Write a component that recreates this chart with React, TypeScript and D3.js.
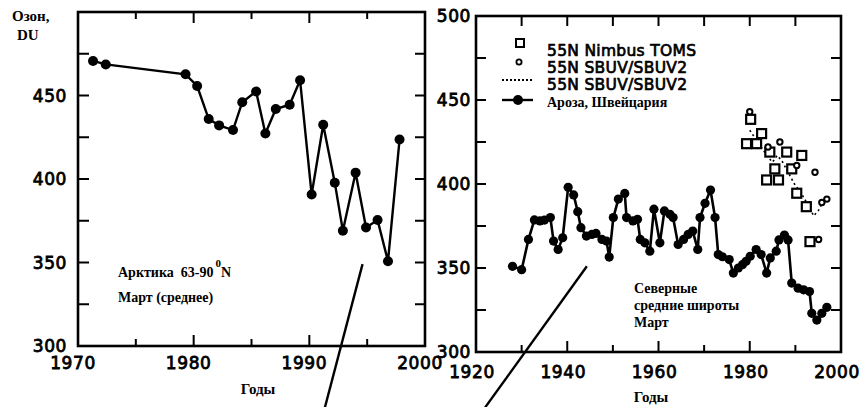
import React from "react";
import * as d3 from "d3";

// ---- Left panel: Arctic 63-90N, March mean ----
const arcticYears = [1971.3, 1972.4, 1979.3, 1980.3, 1981.3, 1982.2, 1983.4, 1984.2, 1985.4, 1986.2, 1987.1, 1988.3, 1989.2, 1990.2, 1991.2, 1992.2, 1992.9, 1994.0, 1994.9, 1995.9, 1996.8, 1997.8];
const arcticValues = [470.7, 468.6, 462.7, 455.7, 435.9, 432.1, 429.3, 446, 452.4, 427.2, 441.9, 444.5, 459.1, 390.7, 432.5, 397.8, 369, 403.8, 371, 375.4, 350.8, 423.6];

// ---- Right panel: Arosa, Switzerland ----
const arosaYears = [1928, 1930, 1931.5, 1932.8, 1934, 1935, 1936.3, 1937, 1938, 1939, 1940.2, 1941.4, 1942.3, 1943, 1944.2, 1945.4, 1946.3, 1947.6, 1948.6, 1949.2, 1950.1, 1951.2, 1952.6, 1953, 1954.4, 1955.4, 1956, 1957, 1958.1, 1959, 1960.3, 1961.3, 1962.5, 1963.2, 1964.3, 1965.5, 1966.5, 1967.5, 1968.6, 1969.1, 1970.2, 1971.4, 1972.4, 1973.1, 1974, 1975.5, 1976.4, 1977.5, 1978.4, 1979.2, 1980.1, 1981.4, 1982.5, 1983.7, 1984.5, 1985.8, 1986.4, 1987.6, 1988.4, 1989.2, 1990.6, 1991.8, 1993.1, 1993.6, 1994.7, 1995.8, 1996.9];
const arosaValues = [351, 349, 367, 378.6, 378, 378.5, 380, 366, 361, 368, 398, 393.5, 383.5, 374, 369, 370, 370.6, 367, 366, 356.5, 380, 391, 394.4, 380, 378, 379, 367, 365, 360, 385, 365, 384, 382, 380, 364, 367, 370, 372, 361, 380, 388.5, 396.4, 380, 358, 356.7, 355, 347, 350, 352, 354, 357, 361, 358, 347, 356, 360, 366.7, 369.6, 366.7, 341, 338, 337, 336, 323, 319, 323, 326.6];

// ---- 55N Nimbus TOMS (squares) ----
const tomsYears = [1979.3, 1980.2, 1981.5, 1982.6, 1984.4, 1983.7, 1985.5, 1986.3, 1988.1, 1989.2, 1991.4, 1990.3, 1992.4, 1993.2];
const tomsValues = [424, 438.5, 424, 430, 419, 402.4, 409, 402.4, 419, 409, 417, 394.5, 386.5, 365.7];

// ---- 55N SBUV/SBUV2 (circles) ----
const sbuvYears = [1980.0, 1984.0, 1986.6, 1990.3, 1994.3, 1995.1, 1995.8, 1996.9];
const sbuvValues = [443, 422, 425, 411, 407, 367, 389, 391];

// ---- 55N SBUV/SBUV2 (dotted line) ----
const sbuvLineYears = [1980, 1981, 1982, 1983, 1984, 1985, 1986, 1987, 1988, 1989, 1990, 1991, 1992, 1993, 1994, 1995, 1996];
const sbuvLineValues = [432, 428, 424, 420, 416, 413, 417, 414, 409, 404, 399, 396, 391, 387, 381, 384, 389];

// ---- Axis ticks ----
const leftXTickLabels = [1970, 1980, 1990, 2000];
const leftXMinorTicks = [1975, 1980, 1985, 1990, 1995];
const leftYTickLabels = [300, 350, 400, 450];
const yMinorTicks = [325, 350, 375, 400, 425, 450, 475];
const rightXTickLabels = [1920, 1940, 1960, 1980, 2000];
const rightXMinorTicks = [1930, 1940, 1950, 1960, 1970, 1980, 1990];
const rightYTickLabels = [300, 350, 400, 450, 500];

const W = 861;
const H = 407;

const xL = d3.scaleLinear().domain([1970, 2000]).range([78, 425]);
const yL = d3.scaleLinear().domain([300, 500]).range([346, 12]);
const xR = d3.scaleLinear().domain([1920, 2000]).range([476, 841]);
const yR = d3.scaleLinear().domain([300, 500]).range([352, 16]);

const SANS = "'DejaVu Sans', sans-serif";
const SERIF = "'Liberation Serif', 'DejaVu Serif', serif";

function Frame({ x, y, xd, yd }: any) {
  const [x0, x1] = xd;
  const [y0, y1] = yd;
  return (
    <rect x={x(x0)} y={y(y1)} width={x(x1) - x(x0)} height={y(y0) - y(y1)} fill="none" stroke="#000" strokeWidth={2.6} />
  );
}

export default function App() {
  const lineL = d3.line<number>().x((d, i) => xL(arcticYears[i])).y((d) => yL(d));
  const lineR = d3.line<number>().x((d, i) => xR(arosaYears[i])).y((d) => yR(d));
  const lineS = d3.line<number>().x((d, i) => xR(sbuvLineYears[i])).y((d) => yR(d));

  const tickStyle = { fontFamily: SANS, fontSize: 17, fill: "#000", stroke: "#000", strokeWidth: 0.8, letterSpacing: 0.6 } as any;
  const legendStyle = { fontFamily: SANS, fontSize: 15.5, fill: "#000", stroke: "#000", strokeWidth: 0.7, letterSpacing: 0.3 } as any;
  const serifBold = { fontFamily: SERIF, fontWeight: "bold", fill: "#000" } as any;

  return (
    <svg width={W} height={H} style={{ position: "absolute", left: 0, top: 0, background: "#fff" }}>
      <rect x={0} y={0} width={W} height={H} fill="#fff" />

      {/* ================= LEFT PANEL ================= */}
      <Frame x={xL} y={yL} xd={[1970, 2000]} yd={[300, 500]} />
      {yMinorTicks.map((v) => (
        <g key={"lyt" + v}>
          <line x1={xL(1970)} x2={xL(1970) + 11} y1={yL(v)} y2={yL(v)} stroke="#000" strokeWidth={2} />
          <line x1={xL(2000)} x2={xL(2000) - 10} y1={yL(v)} y2={yL(v)} stroke="#000" strokeWidth={2} />
        </g>
      ))}
      {leftXMinorTicks.map((v) => {
        const len = v % 10 === 0 ? 11 : 7;
        return (
          <g key={"lxt" + v}>
            <line x1={xL(v)} x2={xL(v)} y1={yL(300)} y2={yL(300) - len} stroke="#000" strokeWidth={2} />
            <line x1={xL(v)} x2={xL(v)} y1={yL(500)} y2={yL(500) + len} stroke="#000" strokeWidth={2} />
          </g>
        );
      })}
      {leftYTickLabels.map((v) => (
        <text key={"lyl" + v} x={xL(1970) - 11} y={yL(v)} dy="0.36em" textAnchor="end" style={tickStyle}>{v}</text>
      ))}
      {leftXTickLabels.map((v) => (
        <text key={"lxl" + v} x={xL(v) - 5} y={yL(300) + 23} textAnchor="middle" style={tickStyle}>{v}</text>
      ))}

      <path d={lineL(arcticValues) || ""} fill="none" stroke="#000" strokeWidth={2.4} />
      {arcticValues.map((v, i) => (
        <circle key={"ld" + i} cx={xL(arcticYears[i])} cy={yL(v)} r={5} fill="#000" />
      ))}

      <text x={12} y={21} style={{ ...serifBold, fontSize: 15 }}>Озон,</text>
      <text x={17} y={40} style={{ ...serifBold, fontSize: 15 }}>DU</text>
      <text x={118} y={277} style={{ ...serifBold, fontSize: 14 }}>
        {"Арктика\u00A0\u00A063-90"}
        <tspan dx={2} dy={-10} fontSize={11}>0</tspan>
        <tspan dy={10}>N</tspan>
      </text>
      <text x={118} y={302} style={{ ...serifBold, fontSize: 14 }}>Март (среднее)</text>
      <text x={258} y={394} textAnchor="middle" style={{ ...serifBold, fontSize: 15 }}>Годы</text>

      {/* ================= RIGHT PANEL ================= */}
      <Frame x={xR} y={yR} xd={[1920, 2000]} yd={[300, 500]} />
      {yMinorTicks.map((v) => (
        <g key={"ryt" + v}>
          <line x1={xR(1920)} x2={xR(1920) + 10} y1={yR(v)} y2={yR(v)} stroke="#000" strokeWidth={2} />
          <line x1={xR(2000)} x2={xR(2000) - 10} y1={yR(v)} y2={yR(v)} stroke="#000" strokeWidth={2} />
        </g>
      ))}
      {rightXMinorTicks.map((v) => {
        const len = v % 20 === 0 ? 11 : 7;
        return (
          <g key={"rxt" + v}>
            <line x1={xR(v)} x2={xR(v)} y1={yR(300)} y2={yR(300) - len} stroke="#000" strokeWidth={2} />
            <line x1={xR(v)} x2={xR(v)} y1={yR(500)} y2={yR(500) + 10} stroke="#000" strokeWidth={2} />
          </g>
        );
      })}
      {rightYTickLabels.map((v) => (
        <text key={"ryl" + v} x={xR(1920) - 5} y={yR(v)} dy="0.36em" textAnchor="end" style={tickStyle}>{v}</text>
      ))}
      {rightXTickLabels.map((v) => (
        <text key={"rxl" + v} x={xR(v) - 4} y={yR(300) + 26} textAnchor="middle" style={tickStyle}>{v}</text>
      ))}

      {/* SBUV dotted line */}
      <path d={lineS(sbuvLineValues) || ""} fill="none" stroke="#000" strokeWidth={1.6} strokeDasharray="2,3" />
      {/* TOMS squares */}
      {tomsValues.map((v, i) => (
        <rect key={"ts" + i} x={xR(tomsYears[i]) - 4.5} y={yR(v) - 4.5} width={9} height={9} fill="#fff" stroke="#000" strokeWidth={2.2} />
      ))}
      {/* SBUV circles */}
      {sbuvValues.map((v, i) => (
        <circle key={"sc" + i} cx={xR(sbuvYears[i])} cy={yR(v)} r={2.7} fill="#fff" stroke="#000" strokeWidth={2} />
      ))}
      {/* Arosa */}
      <path d={lineR(arosaValues) || ""} fill="none" stroke="#000" strokeWidth={2.6} />
      {arosaValues.map((v, i) => (
        <circle key={"ad" + i} cx={xR(arosaYears[i])} cy={yR(v)} r={4.6} fill="#000" />
      ))}

      {/* Legend */}
      <rect x={516} y={39} width={8} height={8} fill="#fff" stroke="#000" strokeWidth={2} />
      <circle cx={519} cy={62} r={2.6} fill="#fff" stroke="#000" strokeWidth={1.8} />
      <line x1={502} x2={533} y1={80} y2={80} stroke="#000" strokeWidth={1.8} strokeDasharray="2,2" />
      <line x1={502} x2={533} y1={100} y2={100} stroke="#000" strokeWidth={2.4} />
      <circle cx={518} cy={100} r={5} fill="#000" />
      <text x={547} y={55.5} style={legendStyle}>55N Nimbus TOMS</text>
      <text x={547} y={72.5} style={legendStyle}>55N SBUV/SBUV2</text>
      <text x={547} y={89.5} style={legendStyle}>55N SBUV/SBUV2</text>
      <text x={547} y={107} style={{ ...serifBold, fontSize: 14 }}>Ароза, Швейцария</text>

      <text x={634} y={293} style={{ ...serifBold, fontSize: 14 }}>Северные</text>
      <text x={634} y={310} style={{ ...serifBold, fontSize: 14 }}>средние широты</text>
      <text x={634} y={327} style={{ ...serifBold, fontSize: 14 }}>Март</text>
      <text x={651} y={402} textAnchor="middle" style={{ ...serifBold, fontSize: 15 }}>Годы</text>

      {/* Pointer lines */}
      <line x1={xL(1994.6)} y1={yL(349)} x2={xL(1991.3)} y2={yL(262)} stroke="#000" strokeWidth={2.4} />
      <line x1={xR(1944.3)} y1={yR(351)} x2={xR(1922)} y2={yR(267)} stroke="#000" strokeWidth={2.4} />
    </svg>
  );
}
